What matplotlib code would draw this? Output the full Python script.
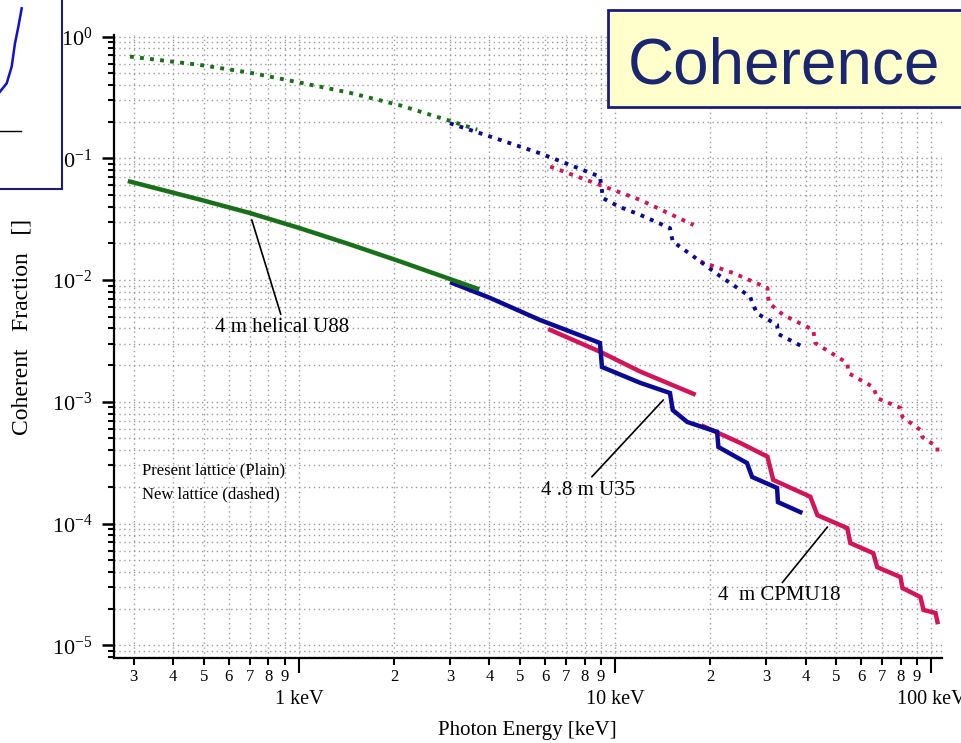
import numpy as np
import matplotlib
matplotlib.use("Agg")
import matplotlib.pyplot as plt
from matplotlib.ticker import LogLocator, FuncFormatter, NullFormatter
from matplotlib.patches import Rectangle

plt.rcParams['font.family'] = ['Liberation Serif', 'DejaVu Serif']
plt.rcParams['mathtext.fontset'] = 'custom'
plt.rcParams['mathtext.rm'] = 'Liberation Serif'
plt.rcParams['mathtext.it'] = 'Liberation Serif:italic'

# --- datos (energia en keV, fraccion coherente) ---
# U88 helicoidal 4 m
u88_present_e = [0.292, 0.486, 0.70, 1.0, 1.45, 2.09, 3.0, 3.66]
u88_present_f = [0.0644, 0.0458, 0.0355, 0.0268, 0.0196, 0.0142, 0.0102, 0.0085]
u88_new_e = [0.292, 0.486, 0.70, 1.0, 1.45, 2.09, 3.0, 3.66]
u88_new_f = [0.685, 0.585, 0.505, 0.42, 0.345, 0.272, 0.203, 0.172]

# U35 4.8 m
u35_present_e = [3.05, 4.02, 5.78, 8.95, 9.08, 12.0, 14.9, 15.2, 16.9, 21.0, 21.2,
                 26.1, 27.1, 32.5, 32.7, 38.5]
u35_present_f = [0.00946, 0.00713, 0.0047, 0.00304, 0.00193, 0.00143, 0.00118, 0.000855,
                 0.000682, 0.000565, 0.000425, 0.000314, 0.000241, 0.000196, 0.00015, 0.000124]
u35_new_e = [3.0, 4.02, 5.78, 8.95, 9.15, 10.3, 12.0, 14.9, 15.2, 17.7, 21.0, 26.7, 27.2,
             28.1, 32.5, 32.8, 38.5]
u35_new_f = [0.194, 0.151, 0.110, 0.0707, 0.047, 0.040, 0.0343, 0.0267, 0.0207, 0.0156,
             0.0112, 0.0073, 0.0064, 0.0053, 0.0043, 0.0036, 0.0029]

# CPMU18 4 m (dos tramos, separados por nan)
cpmu18_present_e = [6.23, 8.95, 12.0, 17.7, np.nan,
                    19.0, 24.9, 30.3, 31.6, 41.4, 43.6, 54.2, 55.4, 65.5, 67.4, 79.8,
                    81.0, 92.3, 94.4, 103, 104.5]
cpmu18_present_f = [0.00389, 0.00258, 0.00177, 0.00116, np.nan,
                    0.00063, 0.000458, 0.000354, 0.000228, 0.000166, 0.000117, 9.16e-5,
                    6.9e-5, 5.7e-5, 4.38e-5, 3.63e-5, 2.95e-5, 2.49e-5, 1.95e-5, 1.84e-5, 1.55e-5]
cpmu18_new_e = [6.23, 8.95, 12.0, 17.7, np.nan,
                18.6, 23.6, 30.3, 30.6, 34.0, 42.3, 42.9, 54.2, 54.6, 65.5, 67.4, 79.8,
                81.0, 92.3, 93.6, 104.5, 104.5]
cpmu18_new_f = [0.0855, 0.0604, 0.0455, 0.0283, np.nan,
                0.01416, 0.01143, 0.0086, 0.00648, 0.00517, 0.00389, 0.00304, 0.00208,
                0.00172, 0.00132, 0.00107, 0.00089, 0.00075, 0.000586, 0.000513, 0.000425, 0.000365]

# recorte de la figura vecina (esquina superior izquierda)
inset_x = [0.0, 0.108, 0.188, 0.242, 0.296, 0.35]
inset_y = [0.515, 0.559, 0.647, 0.771, 0.859, 0.956]

x_major_labels = {1: '1 keV', 10: '10 keV', 100: '100 keV'}

green = '#187018'
blue = '#0a0a96'
pink = '#d4145a'

fig = plt.figure(figsize=(9.61, 7.43), dpi=100)
ax = fig.add_axes([114 / 961, 1 - 657.7 / 743, 828 / 961, 622.7 / 743])

dot = (0, (1.0, 1.6))
ax.plot(cpmu18_new_e, cpmu18_new_f, color=pink, lw=2.8, ls=dot, dash_capstyle='butt')
ax.plot(u35_new_e, u35_new_f, color=blue, lw=2.8, ls=dot, dash_capstyle='butt')
ax.plot(u88_new_e, u88_new_f, color=green, lw=2.8, ls=dot, dash_capstyle='butt')
ax.plot(cpmu18_present_e, cpmu18_present_f, color=pink, lw=3.2, solid_joinstyle='miter')
ax.plot(u35_present_e, u35_present_f, color=blue, lw=3.2, solid_joinstyle='miter')
ax.plot(u88_present_e, u88_present_f, color=green, lw=3.2)

ax.set_xscale('log')
ax.set_yscale('log')
ax.set_xlim(0.26, 108)
ax.set_ylim(7.9e-6, 1.03)

# ejes y marcas
ax.xaxis.set_major_locator(LogLocator(base=10, subs=(1.0,)))
ax.xaxis.set_minor_locator(LogLocator(base=10, subs=np.arange(2, 10), numticks=20))
ax.xaxis.set_major_formatter(FuncFormatter(lambda v, p: x_major_labels.get(int(round(v)), '')))
ax.xaxis.set_minor_formatter(FuncFormatter(lambda v, p: '%d' % round(v / 10 ** np.floor(np.log10(v) + 1e-9))))
ax.yaxis.set_major_locator(LogLocator(base=10, subs=(1.0,)))
ax.yaxis.set_minor_locator(LogLocator(base=10, subs=np.arange(2, 10), numticks=20))
ax.yaxis.set_major_formatter(FuncFormatter(lambda v, p: r'$\mathregular{10^{%d}}$' % round(np.log10(v))))
ax.yaxis.set_minor_formatter(NullFormatter())

ax.tick_params(axis='x', which='major', length=11, width=1.5, pad=12, labelsize=14.5)
ax.tick_params(axis='x', which='minor', length=5, width=1.5, pad=3, labelsize=12)
ax.tick_params(axis='y', which='major', length=8.5, width=1.8, pad=7, labelsize=16)
ax.tick_params(axis='y', which='minor', length=4.5, width=1.5)

for s in ['top', 'right']:
    ax.spines[s].set_visible(False)
for s in ['left', 'bottom']:
    ax.spines[s].set_linewidth(1.6)

ax.grid(True, which='both', color='#9a9a9a', ls=(0, (1, 2.5)), lw=1.0)
ax.set_axisbelow(True)

ax.set_xlabel('Photon Energy [keV]', fontsize=15)
ax.xaxis.set_label_coords(0.499, -0.102)
ax.set_ylabel('Coherent   Fraction   []', fontsize=17)
ax.yaxis.set_label_coords(-0.098, 0.531)

# anotaciones
arrow = dict(arrowstyle='-', color='black', lw=1.2, relpos=(0.5, 1.0), shrinkA=1, shrinkB=0)
ax.annotate('4 m helical U88', xy=(0.709, 0.0312), xytext=(0.884, 0.00404),
            ha='center', va='center', fontsize=15, arrowprops=arrow)
ax.annotate('4 .8 m U35', xy=(14.2, 0.001035), xytext=(8.22, 0.000188),
            ha='center', va='center', fontsize=15, arrowprops=arrow)
ax.annotate('4  m CPMU18', xy=(46.9, 9.36e-5), xytext=(33.0, 2.54e-5),
            ha='center', va='center', fontsize=15, arrowprops=arrow)
ax.text(0.319, 2.75e-4, 'Present lattice (Plain)', fontsize=12, ha='left', va='center')
ax.text(0.319, 1.75e-4, 'New lattice (dashed)', fontsize=12, ha='left', va='center')

# cuadro "Coherence"
fig.patches.append(Rectangle((608 / 961, 1 - 107 / 743), 0.4, 97 / 743, transform=fig.transFigure,
                             facecolor='#ffffcc', edgecolor='#1c1c7c', lw=2, zorder=5))
fig.text(784 / 961, 1 - 83 / 743, 'Coherence', fontsize=46, color='#1a2670',
         family=['Liberation Sans', 'DejaVu Sans'], ha='center', va='baseline', zorder=6)

# recorte de la figura vecina
ins = fig.add_axes([0, 1 - 189 / 743, 62 / 961, 189 / 743])
ins.plot(inset_x, inset_y, color='#1010d0', lw=1.8)
ins.plot([0, 0.333], [0.307, 0.307], color='black', lw=1)
ins.set_xlim(0, 1)
ins.set_ylim(0, 1)
ins.set_xticks([])
ins.set_yticks([])
for s in ['top', 'left']:
    ins.spines[s].set_visible(False)
for s in ['right', 'bottom']:
    ins.spines[s].set_color('#1c1c7c')
    ins.spines[s].set_linewidth(1.5)

fig.savefig('out.png', dpi=100)
